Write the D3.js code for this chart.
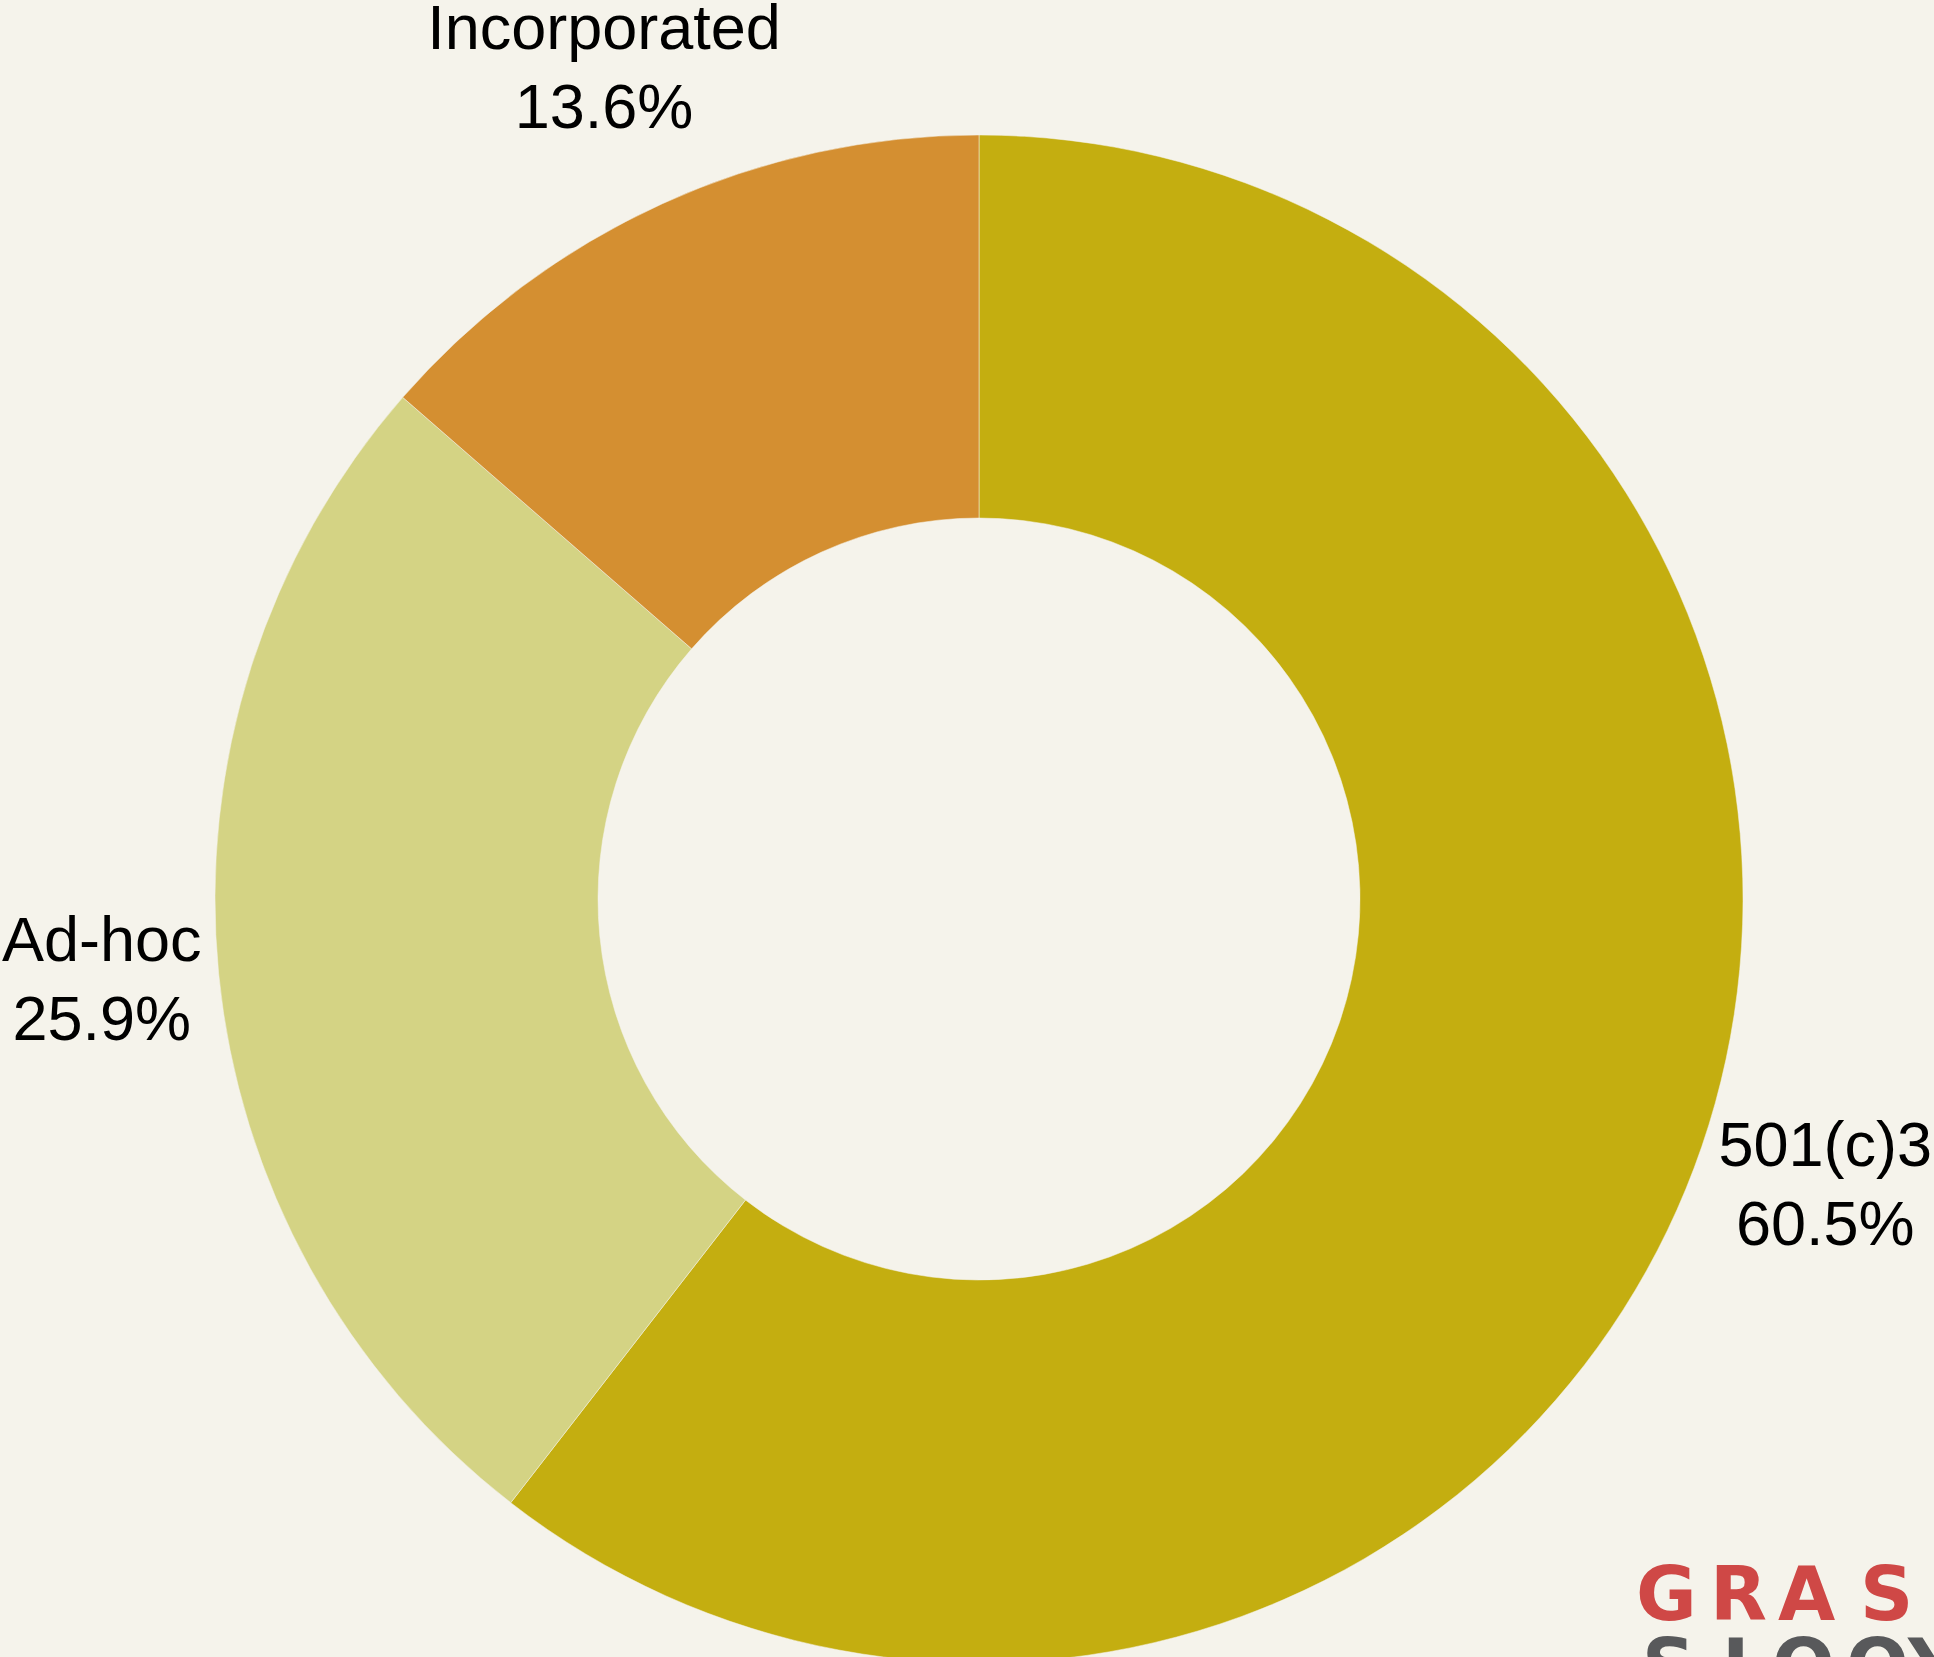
<!DOCTYPE html>
<html>
<head>
<meta charset="utf-8">
<script src="https://cdn.jsdelivr.net/npm/d3@7"></script>
<style>
  html, body { margin: 0; padding: 0; background: #F5F3EB; overflow: hidden; }
  svg { display: block; }
</style>
</head>
<body>
<svg id="chart" width="1934" height="1657"></svg>
<script>
const categories = ["501(c)3", "Ad-hoc", "Incorporated"];
const values = [60.5, 25.9, 13.6];
const colors = ["#C4AE10", "#D4D384", "#D48F31"];
const labels = ["60.5%", "25.9%", "13.6%"];

const W = 1934, H = 1657;
const cx = 979, cy = 899;
const outerR = 764, innerR = 381, labelR = 905;

const svg = d3.select("#chart");
svg.append("rect").attr("width", W).attr("height", H).attr("fill", "#F5F3EB");

const data = categories.map((c, i) => ({ cat: c, value: values[i], color: colors[i], label: labels[i] }));
const pie = d3.pie().value(d => d.value).sort(null);
const arcs = pie(data);
const arc = d3.arc().innerRadius(innerR).outerRadius(outerR);
const labelArc = d3.arc().innerRadius(labelR).outerRadius(labelR);

const g = svg.append("g").attr("transform", `translate(${cx},${cy})`);
g.selectAll("path").data(arcs).join("path")
  .attr("d", arc)
  .attr("fill", d => d.data.color)
  .attr("stroke", "#F5F3EB")
  .attr("stroke-opacity", 0.5)
  .attr("stroke-width", 1);

const lg = g.selectAll("text.lbl").data(arcs).join("text")
  .attr("class", "lbl")
  .attr("text-anchor", "middle")
  .attr("font-family", "'Liberation Sans', Arial, sans-serif")
  .attr("font-size", 63)
  .attr("fill", "#000");
lg.each(function(d) {
  const [x, y] = labelArc.centroid(d);
  const t = d3.select(this);
  t.append("tspan").attr("x", x).attr("y", y - 26).text(d.data.cat);
  t.append("tspan").attr("x", x).attr("y", y + 53).text(d.data.label);
  const bb = this.getBBox();
  let shift = 0;
  if (cx + bb.x < 2) shift = 2 - (cx + bb.x);
  if (cx + bb.x + bb.width > W - 2) shift = (W - 2) - (cx + bb.x + bb.width);
  if (shift) t.selectAll("tspan").attr("x", x + shift);
});

// logo (partially cropped at bottom-right, as in the source image)
const logo = svg.append("g").attr("font-family", "'DejaVu Sans', sans-serif").attr("font-weight", 700);
const red = ["G", "R", "A", "S", "S"];
const redX = [1636, 1710, 1778, 1860, 1930];
logo.selectAll("text.r").data(red).join("text").attr("class", "r")
  .attr("x", (d, i) => redX[i]).attr("y", 1620)
  .attr("font-size", 74).attr("fill", "#CF4846").text(d => d);
const gray = ["S", "L", "O", "O", "Y"];
const grayX = [1642, 1722, 1772, 1846, 1908];
logo.selectAll("text.k").data(gray).join("text").attr("class", "k")
  .attr("x", (d, i) => grayX[i]).attr("y", 1692)
  .attr("font-size", 74).attr("fill", "#58595B").text(d => d);
</script>
</body>
</html>
